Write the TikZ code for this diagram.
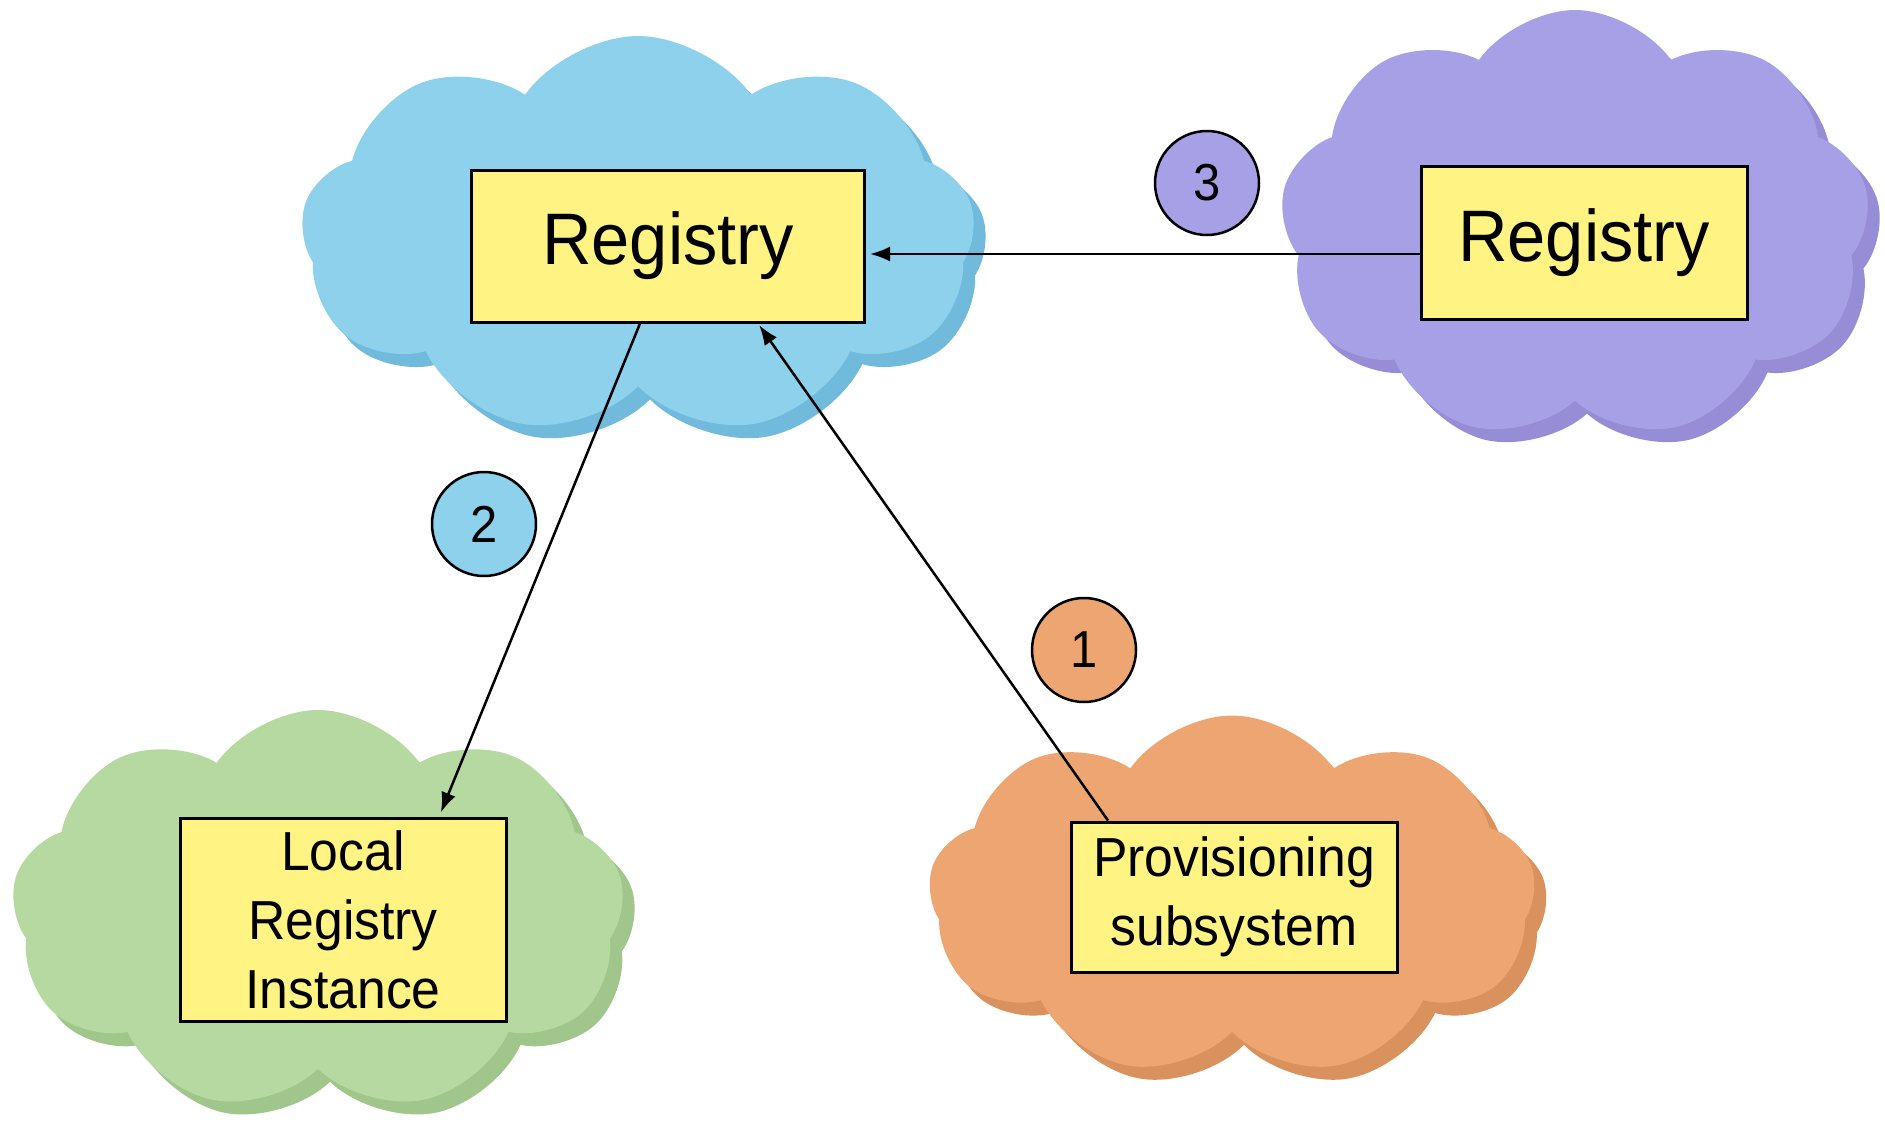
\documentclass[tikz,border=0pt]{standalone}
\usepackage{fontspec}
\setmainfont[FakeStretch=0.94]{Liberation Sans}
\usetikzlibrary{arrows.meta}
\usetikzlibrary{shapes.symbols}

\definecolor{skyblue}{HTML}{8DD1EC}
\definecolor{skyshade}{HTML}{72BADB}
\definecolor{lilac}{HTML}{A8A0E6}
\definecolor{lilacshade}{HTML}{978DD6}
\definecolor{sage}{HTML}{B6D9A1}
\definecolor{sageshade}{HTML}{A1C68C}
\definecolor{peach}{HTML}{EDA672}
\definecolor{peachshade}{HTML}{D9915E}
\definecolor{boxyellow}{HTML}{FFF483}

\begin{document}
\begin{tikzpicture}
      [x=1pt,y=-1pt,
        puff/.style={cloud, cloud puffs=9, cloud puff arc=110, inner sep=0pt},
        regbox/.style={draw=black, line width=3pt, fill=boxyellow, inner sep=0pt, align=center},
        numdot/.style={circle, draw=black, line width=2.5pt, minimum size=104pt, inner sep=0pt,
          font=\fontsize{52}{60}\selectfont},
        link/.style={line width=2.5pt, -{Latex[length=20pt,width=15pt]}}]
  \useasboundingbox (0,0) rectangle (1885,1124);
  % clouds with their shadows
  \node[puff, fill=skyshade, minimum width=674pt, minimum height=400pt] at (650,249) {};
  \node[puff, fill=skyblue, minimum width=674pt, minimum height=400pt] (skyA) at (638,236) {};
  \node[puff, fill=lilacshade, minimum width=590pt, minimum height=430pt] at (1587,238) {};
  \node[puff, fill=lilac, minimum width=590pt, minimum height=430pt] (skyB) at (1575,225) {};
  \node[puff, fill=sageshade, minimum width=613pt, minimum height=402pt] at (330,924) {};
  \node[puff, fill=sage, minimum width=613pt, minimum height=402pt] (skyC) at (318,911) {};
  \node[puff, fill=peachshade, minimum width=607pt, minimum height=361pt] at (1244,909) {};
  \node[puff, fill=peach, minimum width=607pt, minimum height=361pt] (skyD) at (1232,896) {};
  % boxes
  \node[regbox, minimum width=393pt, minimum height=152pt, font=\fontsize{73}{80}\selectfont]
    (lreg) at (668,246) {Registry};
  \node[regbox, minimum width=326pt, minimum height=153pt, font=\fontsize{73}{80}\selectfont]
    (rreg) at (1584,243) {Registry};
  \node[regbox, minimum width=326pt, minimum height=203pt, font=\fontsize{55}{69}\selectfont]
    (local) at (343,920) {Local\\Registry\\Instance};
  \node[regbox, minimum width=326pt, minimum height=150pt, font=\fontsize{55}{69}\selectfont]
    (prov) at (1234,897) {Provisioning\\subsystem};
  % numbered steps
  \node[numdot, fill=peach] (one) at (1084,650) {1};
  \node[numdot, fill=skyblue] (two) at (484,524) {2};
  \node[numdot, fill=lilac] (three) at (1207,183) {3};
  % links
  \draw[link, shorten >=4pt] ([yshift=-11pt]rreg.west) -- ([yshift=-8pt]lreg.east);
  \draw[link, shorten >=5pt] ([xshift=-28pt]lreg.south) -- ([xshift=96pt]local.north);
  \draw[link, shorten >=2pt] ([xshift=-126pt]prov.north) -- ([xshift=90pt]lreg.south);
\end{tikzpicture}
\end{document}
